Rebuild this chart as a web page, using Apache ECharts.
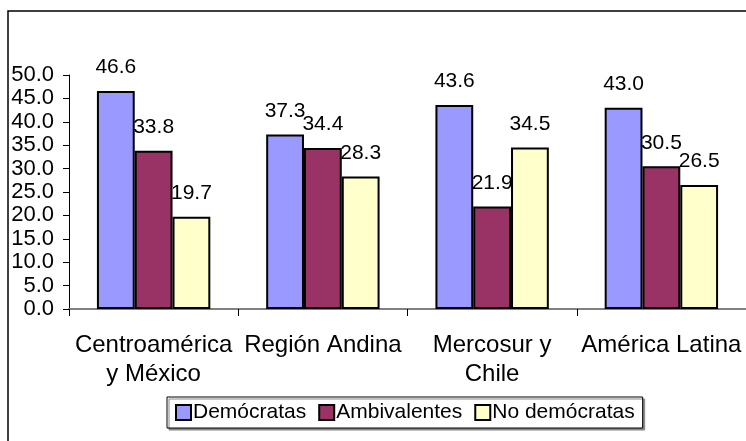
<!DOCTYPE html>
<html>
<head>
<meta charset="utf-8">
<script src="https://cdn.jsdelivr.net/npm/echarts@6/dist/echarts.min.js"></script>
<style>
html,body{margin:0;padding:0;background:#fff;}
#c{width:746px;height:441px;}
</style>
</head>
<body>
<div id="c"></div>
<script>
const categories = ['Centroamérica\ny México', 'Región Andina', 'Mercosur y\nChile', 'América Latina'];
const seriesNames = ['Demócratas', 'Ambivalentes', 'No demócratas'];
const democratas = [46.6, 37.3, 43.6, 43.0];
const ambivalentes = [33.8, 34.4, 21.9, 30.5];
const noDemocratas = [19.7, 28.3, 34.5, 26.5];
const yTicks = [0, 5, 10, 15, 20, 25, 30, 35, 40, 45, 50];

const colors = ['#9999FF', '#993366', '#FFFFCC'];
const values = [democratas, ambivalentes, noDemocratas];
const FONT = 'Liberation Sans, Arial, sans-serif';

const chart = echarts.init(document.getElementById('c'), null, {renderer: 'canvas'});

const barSeries = values.map((v, i) => ({
  name: seriesNames[i],
  type: 'bar',
  xAxisIndex: 0,
  data: v,
  barGap: '0%',
  barCategoryGap: '33%',
  z: 3,
  itemStyle: {color: colors[i], borderColor: '#000', borderWidth: 2},
  label: {show: false},
  emphasis: {disabled: true}
}));

const labelSeries = values.map((v, i) => ({
  name: 'lbl' + i,
  type: 'bar',
  xAxisIndex: 1,
  data: v,
  barGap: '0%',
  barCategoryGap: '33%',
  z: 1,
  itemStyle: {color: 'rgba(0,0,0,0)'},
  label: {
    show: true, position: 'top', distance: 13,
    formatter: p => p.value.toFixed(1),
    fontFamily: FONT, fontSize: 21, color: '#000'
  },
  emphasis: {disabled: true},
  silent: true
}));

chart.setOption({
  animation: false,
  backgroundColor: '#fff',
  graphic: [{
    type: 'rect', z: -10,
    shape: {x: 8, y: 11, width: 900, height: 600},
    style: {fill: 'none', stroke: '#000', lineWidth: 1.5}
  }],
  legend: {
    data: seriesNames,
    left: 167, top: 397,
    padding: [5, 8, 5, 8],
    itemWidth: 15, itemHeight: 15, itemGap: 12,
    icon: 'rect',
    itemStyle: {borderColor: '#000', borderWidth: 2},
    textStyle: {fontFamily: FONT, fontSize: 21, color: '#000', padding: [0, 0, 0, -3]},
    borderColor: '#000', borderWidth: 1,
    backgroundColor: '#fff',
    shadowColor: '#888', shadowOffsetX: 2, shadowOffsetY: 2, shadowBlur: 0,
    selectedMode: false
  },
  grid: {left: 69, top: 75, bottom: 132, right: -14, containLabel: false},
  xAxis: [{
    type: 'category',
    data: categories,
    axisLine: {show: true, lineStyle: {color: '#808080', width: 2}},
    axisTick: {show: true, length: 7, lineStyle: {color: '#000', width: 1}},
    axisLabel: {fontFamily: FONT, fontSize: 24, color: '#000', margin: 22, lineHeight: 29, interval: 0},
    splitLine: {show: false}
  }, {
    type: 'category',
    data: categories,
    show: false
  }],
  yAxis: {
    type: 'value',
    min: yTicks[0], max: yTicks[yTicks.length - 1], interval: 5,
    axisLine: {show: true, lineStyle: {color: '#000', width: 1}},
    axisTick: {show: true, inside: false, length: 6, lineStyle: {color: '#000'}},
    axisLabel: {fontFamily: FONT, fontSize: 22, color: '#000', margin: 15, formatter: v => v.toFixed(1)},
    splitLine: {show: false}
  },
  series: barSeries.concat(labelSeries)
});
</script>
</body>
</html>
